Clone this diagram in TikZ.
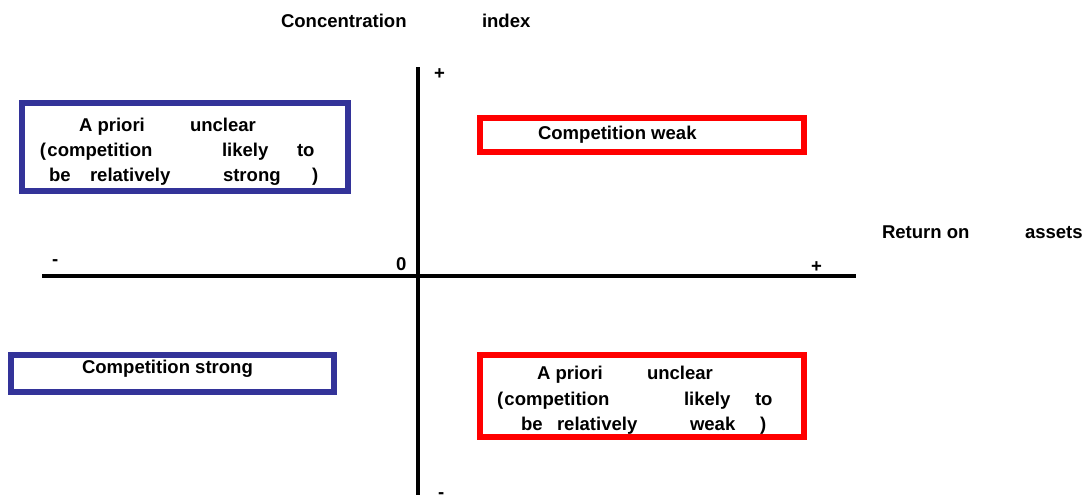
\documentclass[tikz,border=0pt]{standalone}
\usepackage{fontspec}
\setmainfont{Liberation Sans}
\definecolor{boxblue}{RGB}{51,51,153}
\definecolor{boxred}{RGB}{255,0,0}
\begin{document}
\begin{tikzpicture}[x=0.75pt,y=-0.75pt,
  lbl/.style={anchor=base west,inner sep=0pt,outer sep=0pt,font=\fontsize{13.9}{16}\selectfont\bfseries},
  axis/.style={line width=2.3pt,black},
  bluebox/.style={draw=boxblue,line width=4pt,inner sep=0pt,outer sep=0pt,fill=none},
  redbox/.style={draw=boxred,line width=4pt,inner sep=0pt,outer sep=0pt,fill=none}]
\useasboundingbox (0,0) rectangle (1086,494);
% axes
\coordinate (ytop) at (418,67);
\coordinate (ybot) at (418,500);
\coordinate (xl) at (42,276);
\coordinate (xr) at (856,276);
\draw[axis] (ytop) -- (ybot);
\draw[axis] (xl) -- (xr);
% axis titles
\node[lbl] (t1) at (281,27) {Concentration};
\node[lbl] (t2) at (482,27) {index};
\node[lbl] (r1) at (882,238) {Return on};
\node[lbl] (r2) at (1025,238) {assets};
% signs
\node[lbl] (ptop) at (434,79) {+};
\node[lbl] (pright) at (811,272.5) {+};
\node[lbl] (mleft) at (52,265.5) {-};
\node[lbl] (mbot) at (438,498) {-};
\node[lbl] (zero) at (396,270) {0};
% boxes
\node[bluebox,minimum width=244.5pt,minimum height=66pt] (bq2) at (185,147) {};
\node[redbox,minimum width=243pt,minimum height=25.5pt] (rq1) at (642,135) {};
\node[bluebox,minimum width=242.25pt,minimum height=27.75pt] (bq3) at (172.5,373.5) {};
\node[redbox,minimum width=243pt,minimum height=61.5pt] (rq4) at (642,396) {};
% top-left text
\node[lbl] (a1) at (79,131.7) {A priori};
\node[lbl] (a2) at (190,131.7) {unclear};
\node[lbl] (a3) at (40,156.7) {(\kern1pt competition};
\node[lbl] (a4) at (222,156.7) {likely};
\node[lbl] (a5) at (297,156.7) {to};
\node[lbl] (a6) at (49,181.7) {be};
\node[lbl] (a7) at (90,181.7) {relatively};
\node[lbl] (a8) at (223,181.7) {strong};
\node[lbl] (a9) at (312,181.7) {)};
% top-right text
\node[lbl] (c1) at (538,139) {Competition weak};
% bottom-left text
\node[lbl] (c2) at (82,373) {Competition strong};
% bottom-right text
\node[lbl] (b1) at (537,379) {A priori};
\node[lbl] (b2) at (647,379) {unclear};
\node[lbl] (b3) at (497,405) {(\kern1pt competition};
\node[lbl] (b4) at (684,405) {likely};
\node[lbl] (b5) at (755,405) {to};
\node[lbl] (b6) at (521,430) {be};
\node[lbl] (b7) at (557,430) {relatively};
\node[lbl] (b8) at (690,430) {weak};
\node[lbl] (b9) at (760,430) {)};
\end{tikzpicture}
\end{document}
